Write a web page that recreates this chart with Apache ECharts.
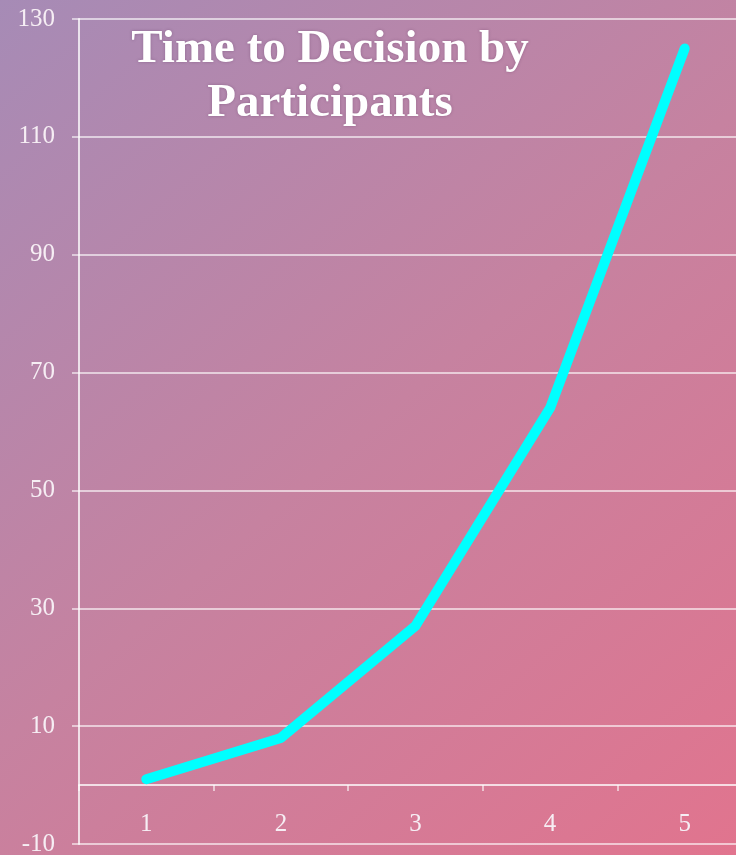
<!DOCTYPE html>
<html>
<head>
<meta charset="utf-8">
<script src="https://cdn.jsdelivr.net/npm/echarts@6/dist/echarts.min.js"></script>
<style>
  html, body { margin: 0; padding: 0; }
  #chart { width: 736px; height: 855px; }
</style>
</head>
<body>
<div id="chart"></div>
<script>
const categories = ['1', '2', '3', '4', '5']
const times = [1, 8, 27, 64, 125]
const yMin = -10
const yMax = 130
const yStep = 20

const chart = echarts.init(document.getElementById('chart'))

chart.setOption({
  backgroundColor: new echarts.graphic.LinearGradient(0, 0, 1, 1, [
    { offset: 0, color: '#a68bb6' },
    { offset: 0.5, color: '#c682a0' },
    { offset: 1, color: '#e1748e' },
  ]),
  animation: false,
  title: {
    text: 'Time to Decision by\nParticipants',
    left: 325,
    top: 18,
    textAlign: 'center',
    textStyle: {
      color: '#ffffff',
      fontFamily: 'Liberation Serif',
      fontWeight: 'bold',
      fontSize: 47,
      lineHeight: 54,
      textShadowColor: 'rgba(80,40,80,0.35)',
      textShadowBlur: 3,
    },
  },
  grid: { left: 79, right: -16, top: 19, bottom: 11, containLabel: false, outerBoundsMode: 'none' },
  xAxis: {
    type: 'category',
    data: categories,
    boundaryGap: true,
    axisLine: { onZero: true, lineStyle: { color: 'rgba(255,255,255,0.75)', width: 2 } },
    axisTick: { show: true, length: 6, lineStyle: { color: 'rgba(255,255,255,0.75)', width: 1.5 } },
    axisLabel: {
      inside: true,
      margin: 7,
      color: '#f6eef4',
      fontFamily: 'Liberation Serif',
      fontSize: 25,
    },
    splitLine: { show: false },
  },
  yAxis: {
    type: 'value',
    min: yMin,
    max: yMax,
    interval: yStep,
    axisLine: { show: true, lineStyle: { color: 'rgba(255,255,255,0.75)', width: 2 } },
    axisTick: { show: true, length: 7, lineStyle: { color: 'rgba(255,255,255,0.75)', width: 1.5 } },
    axisLabel: {
      margin: 24,
      color: '#f6eef4',
      fontFamily: 'Liberation Serif',
      fontSize: 25,
    },
    splitLine: { lineStyle: { color: 'rgba(255,255,255,0.6)', width: 2 } },
  },
  series: [{
    type: 'line',
    data: times,
    showSymbol: false,
    symbol: 'none',
    lineStyle: { color: '#00ffff', width: 10, cap: 'round', join: 'round' },
  }],
})
</script>
</body>
</html>
